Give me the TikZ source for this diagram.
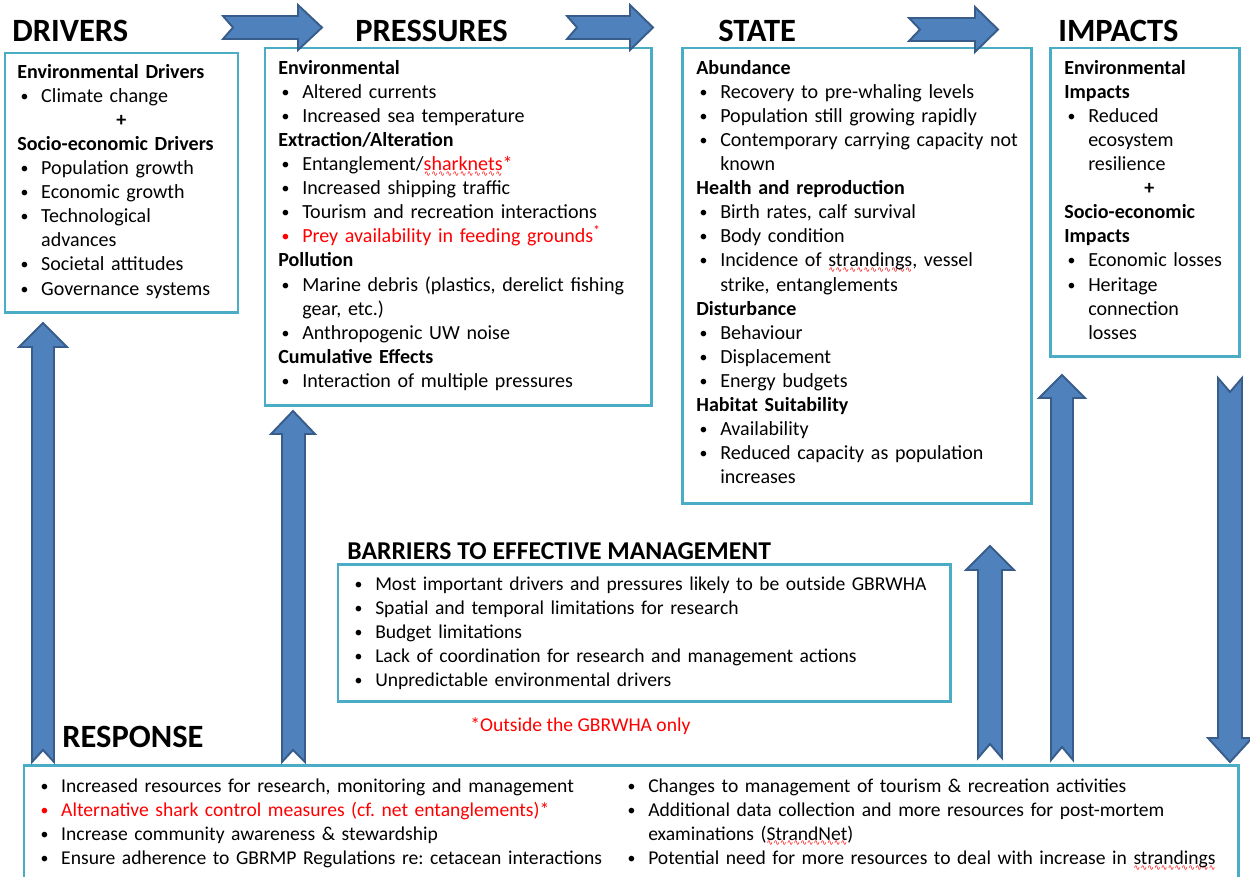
\documentclass[tikz,border=0pt]{standalone}
\usepackage{fontspec}
\setmainfont{Carlito}
\newfontfamily\wavefont{DejaVu Sans}
\usepackage{tikz}
\frenchspacing

\definecolor{boxblue}{RGB}{75,172,198}
\definecolor{arrfill}{RGB}{79,129,189}
\definecolor{arrline}{RGB}{56,93,138}

\newlength{\bhang}\setlength{\bhang}{13.6pt}
\newcommand{\bodyfont}{\fontsize{11.4}{13.72}\selectfont}
\newcommand{\lowfont}{\fontsize{11.15}{13.72}\selectfont}
\newcommand{\hd}[1]{\par\noindent\textbf{#1}\par}
\newcommand{\itm}[2][black]{\par\hangindent=\bhang\hangafter=1\noindent\textcolor{#1}{\makebox[\bhang][l]{\hspace{1.8pt}\raisebox{0.6pt}{\fontsize{9}{9}\selectfont\textbullet}}#2}\par}
\newcommand{\cplus}{{\centering\textbf{+}\par}}
\newcommand{\wavy}[1]{\setbox0=\hbox{#1}\rlap{\lower3.2pt\hbox to \wd0{\xleaders\hbox{\wavefont\fontsize{4.5}{5}\selectfont\textcolor{red}{∿}}\hfill}}\box0}

\begin{document}
\begin{tikzpicture}[x=0.02cm, y=-0.02cm,
  box/.style={draw=boxblue, line width=1.7pt},
  blk/.style={fill=arrfill, draw=arrline, line width=1.1pt, line join=miter},
  title/.style={anchor=base west, inner sep=0, font=\fontsize{18.5}{22}\selectfont\bfseries},
  txt/.style={anchor=base west, inner sep=0, align=left, font=\bodyfont, execute at begin node=\bodyfont},
  lowtxt/.style={txt, font=\lowfont, execute at begin node=\lowfont}]

\useasboundingbox (0,0) rectangle (1250,876);

% boxes

\draw [box] (5,53) rectangle (238,312);

\draw [box] (265,48) rectangle (651,405);

\draw [box] (682,48) rectangle (1031,503);

\draw [box] (1050,48) rectangle (1239,356);

\draw [box] (338,564) rectangle (950,701);

\draw [box] (24,765) rectangle (1238,880);

% titles

\node [title] (drvtitle) at (12,41) {DRIVERS};

\node [title] (prstitle) at (355,41) {PRESSURES};

\node [title] (sttitle) at (718,41) {STATE};

\node [title] (imptitle) at (1058,41) {IMPACTS};

\node [title] (rsptitle) at (62,747) {RESPONSE};

\node [title, font=\fontsize{14.6}{17}\selectfont\bfseries] (bartitle) at (347,559) {BARRIERS TO EFFECTIVE MANAGEMENT};

% box texts (first baseline sits one line below the anchor)

\node [txt, text width=4.16cm] (drvtxt) at (17,54) {%
\hd{Environmental Drivers}
\itm{Climate change}
\cplus
\hd{Socio-economic Drivers}
\itm{Population growth}
\itm{Economic growth}
\itm{Technological\newline advances}
\itm{Societal attitudes}
\itm{Governance systems}};

\node [txt, text width=7.5cm] (prstxt) at (278,50) {%
\hd{Environmental}
\itm{Altered currents}
\itm{Increased sea temperature}
\hd{Extraction/Alteration}
\itm{Entanglement/\textcolor{red}{\wavy{sharknets}*}}
\itm{Increased shipping traffic}
\itm{Tourism and recreation interactions}
\itm[red]{Prey availability in feeding grounds\textsuperscript{*}}
\hd{Pollution}
\itm{Marine debris (plastics, derelict fishing\newline gear, etc.)}
\itm{Anthropogenic UW noise}
\hd{Cumulative Effects}
\itm{Interaction of multiple pressures}};

\node [txt, text width=6.6cm] (sttxt) at (696,50) {%
\hd{Abundance}
\itm{Recovery to pre-whaling levels}
\itm{Population still growing rapidly}
\itm{Contemporary carrying capacity not\newline known}
\hd{Health and reproduction}
\itm{Birth rates, calf survival}
\itm{Body condition}
\itm{Incidence of \wavy{strandings}, vessel\newline strike, entanglements}
\hd{Disturbance}
\itm{Behaviour}
\itm{Displacement}
\itm{Energy budgets}
\hd{Habitat Suitability}
\itm{Availability}
\itm{Reduced capacity as population\newline increases}};

\node [txt, text width=3.4cm] (imptxt) at (1064,50) {%
\hd{Environmental\newline Impacts}
\itm{Reduced\newline ecosystem\newline resilience}
\cplus
\hd{Socio-economic\newline Impacts}
\itm{Economic losses}
\itm{Heritage\newline connection\newline losses}};

\node [lowtxt, text width=12cm] (bartxt) at (351,566) {%
\itm{Most important drivers and pressures likely to be outside GBRWHA}
\itm{Spatial and temporal limitations for research}
\itm{Budget limitations}
\itm{Lack of coordination for research and management actions}
\itm{Unpredictable environmental drivers}};

\node [lowtxt, text=red] (outnote) at (470,731) {*Outside the GBRWHA only};

\node [lowtxt, text width=13cm] (rspleft) at (37,768) {%
\itm{Increased resources for research, monitoring and management}
\itm[red]{Alternative shark control measures (cf. net entanglements)*}
\itm{Increase community awareness \& stewardship}
\itm{Ensure adherence to GBRMP Regulations re: cetacean interactions}};

\node [lowtxt, text width=13cm] (rspright) at (624,768) {%
\itm{Changes to management of tourism \& recreation activities}
\itm{Additional data collection and more resources for post-mortem\newline examinations (\wavy{StrandNet})}
\itm{Potential need for more resources to deal with increase in \wavy{strandings}}};

% block arrows

\draw [blk] (223,16) -- (298,16) -- (298,5) -- (322,27.5) -- (298,50) -- (298,39) -- (223,39) -- (233,27.5) -- cycle;

\draw [blk] (567,16) -- (630,16) -- (630,5) -- (653,27.5) -- (630,50) -- (630,39) -- (567,39) -- (577,27.5) -- cycle;

\draw [blk] (909,18) -- (975,18) -- (975,7) -- (998,29.5) -- (975,52) -- (975,41) -- (909,41) -- (920,29.5) -- cycle;

\draw [blk] (43,323) -- (67,347) -- (54,347) -- (54,762) -- (43,750) -- (32,762) -- (32,347) -- (19,347) -- cycle;

\draw [blk] (293,411) -- (315,434) -- (305,434) -- (305,762) -- (293,750) -- (282,762) -- (282,434) -- (271,434) -- cycle;

\draw [blk] (990,546) -- (1014,570) -- (1002,570) -- (1002,758) -- (990,744) -- (978,758) -- (978,570) -- (966,570) -- cycle;

\draw [blk] (1062,375) -- (1085,398) -- (1073,398) -- (1073,760) -- (1062,747) -- (1051,760) -- (1051,398) -- (1039,398) -- cycle;

\draw [blk] (1218,378) -- (1230,392) -- (1242,378) -- (1242,738) -- (1252,738) -- (1230,762) -- (1208,738) -- (1218,738) -- cycle;

\end{tikzpicture}
\end{document}
